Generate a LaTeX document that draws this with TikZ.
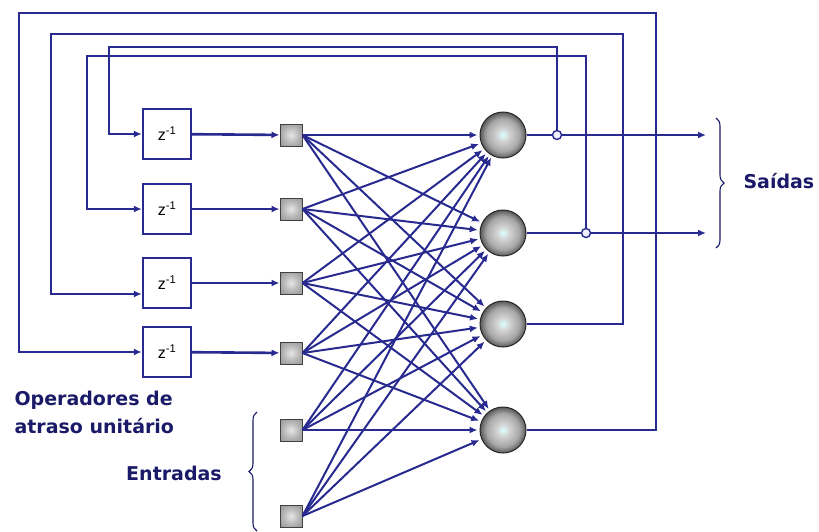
\documentclass[tikz,border=0pt]{standalone}
\usepackage{fontspec}
\usepackage{tikz}
\usetikzlibrary{positioning}
\usetikzlibrary{arrows.meta}
\usetikzlibrary{decorations.pathreplacing}
\setmainfont{Liberation Sans}
\newfontfamily\lblfont{DejaVu Sans}
\definecolor{wireblue}{RGB}{40,42,144}
\definecolor{ink}{RGB}{26,26,104}
\pgfdeclareradialshading{neuronball}{\pgfpoint{0bp}{0bp}}{color(0bp)=(cyan!14!white); color(7bp)=(gray!35!white); color(18bp)=(gray!70); color(25bp)=(gray!70!black); color(50bp)=(gray!70!black)}
\pgfdeclareradialshading{inputsq}{\pgfpoint{0bp}{0bp}}{color(0bp)=(gray!20); color(20bp)=(gray!60); color(30bp)=(gray!75); color(50bp)=(gray!75)}

\begin{document}
\begin{tikzpicture}[x=1pt, y=-1pt,
  wire/.style = {draw=wireblue, line width=2.6pt},
  arr/.style = {wire, -{Latex[length=8pt,width=7pt]}},
  syn/.style = {draw=wireblue, line width=2pt, -{Latex[length=8pt,width=7pt]}, shorten >=2pt},
  delay/.style = {draw=wireblue, line width=2.4pt, fill=white, minimum width=48pt, minimum height=50pt, inner sep=0pt, font=\fontsize{16}{16}\selectfont},
  inp/.style = {draw=gray!50!black, line width=1pt, shading=inputsq, minimum size=22pt, inner sep=0pt},
  neuron/.style = {circle, draw=gray!30!black, line width=1pt, shading=neuronball, minimum size=46pt, inner sep=0pt},
  tap/.style = {circle, draw=wireblue, line width=1.4pt, fill=blue!6, minimum size=9pt, inner sep=0pt},
  brc/.style = {draw=ink, line width=1.1pt, decorate, decoration={brace, amplitude=8pt}},
  lbl/.style = {text=ink, font=\lblfont\bfseries\fontsize{19}{28}\selectfont}]
\useasboundingbox (0,0) rectangle (819,531);

% unit delay operators
\node[delay] (z1) at (167,134) {z\textsuperscript{-1}};
\node[delay] (z2) at (167,209) {z\textsuperscript{-1}};
\node[delay] (z3) at (167,283) {z\textsuperscript{-1}};
\node[delay] (z4) at (167,352) {z\textsuperscript{-1}};

% input nodes
\node[inp] (in1) at (291,135) {};
\node[inp] (in2) at (291,209) {};
\node[inp] (in3) at (291,283) {};
\node[inp] (in4) at (291,353) {};
\node[inp] (in5) at (291,430) {};
\node[inp] (in6) at (291,516) {};

% neurons
\node[neuron] (n1) at (503,135) {};
\node[neuron] (n2) at (503,233) {};
\node[neuron] (n3) at (503,324) {};
\node[neuron] (n4) at (503,430) {};

\node[tap] (t1) at (557,135) {};
\node[tap] (t2) at (586,233) {};
\coordinate (o1) at (706,135);
\coordinate (o2) at (706,233);

% fully connected layer
\foreach \i in {1,...,6}
  \foreach \j in {1,...,4}
    \draw[syn] (in\i.east) -- (n\j);

\foreach \i in {1,...,4}
  \draw[arr] (z\i) -- (in\i);

\draw[wire] (n1) -- (t1);
\draw[arr] (t1) -- (o1);
\draw[wire] (n2) -- (t2);
\draw[arr] (t2) -- (o2);

% feedback loops
\draw[arr] (t1) |- (109,47) |- (z1.west);
\draw[arr] (t2) |- (87,56) |- (z2.west);
\draw[arr] (n3) -- (623,324) |- (51,34) |- ([yshift=-11pt]z3.west);
\draw[arr] (n4) -- (656,430) |- (19,13) |- (z4.west);

% labels
\draw[brc] (716,118) -- (716,248);
\node[lbl, anchor=west] (sai) at (740,181) {Saídas};
\draw[brc] (257,531) -- (257,412);
\node[lbl] (ent) at (174,473) {Entradas};
\node[lbl, anchor=north west, align=left] (ops) at (11,388) {Operadores de\\atraso unitário};
\end{tikzpicture}
\end{document}
